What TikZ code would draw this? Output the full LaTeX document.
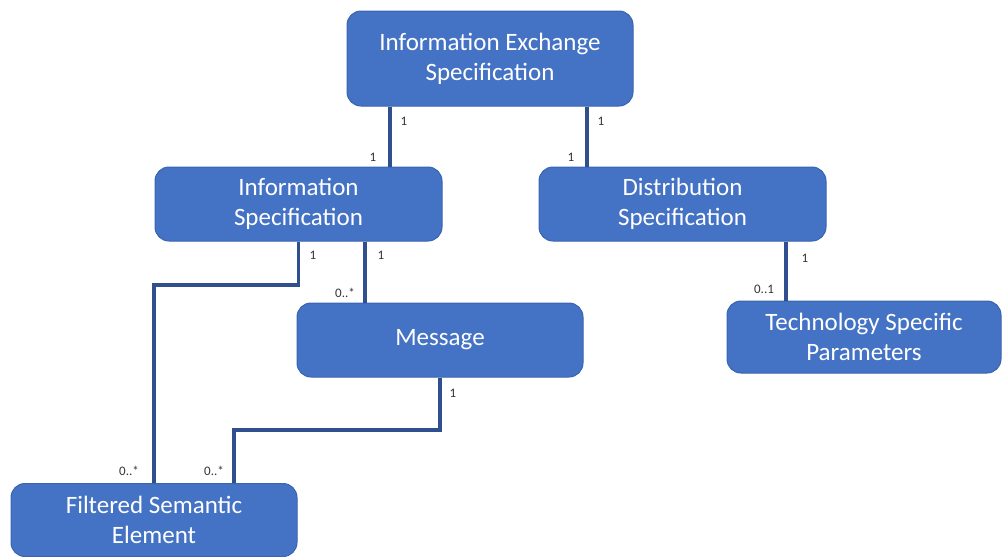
\documentclass[tikz,border=0pt]{standalone}
\usepackage{fontspec}
\setmainfont{Carlito}
\definecolor{boxblue}{HTML}{4472C4}
\definecolor{boxline}{HTML}{3A64B0}
\definecolor{linkblue}{HTML}{2F4F8F}
\begin{document}
\begin{tikzpicture}[x=1pt,y=-1pt,
    box/.style={draw=boxline, line width=1pt, fill=boxblue, rounded corners=14pt,
      text=white, align=center, inner sep=0pt,
      font=\fontsize{25}{30}\selectfont},
    link/.style={draw=linkblue, line width=3.5pt},
    mult/.style={text=black!80, inner sep=1pt, font=\fontsize{13}{15}\selectfont}]
    \useasboundingbox (0,0) rectangle (1002,557);

    % Draw the boxes
    \node[box, minimum width=286pt, minimum height=95pt] (ies) at (490,58.5) {Information Exchange\\Specification};
    \node[box, minimum width=287pt, minimum height=74pt] (is) at (298.5,204) {Information\\Specification};
    \node[box, minimum width=287pt, minimum height=74pt] (ds) at (682.5,204) {Distribution\\Specification};
    \node[box, minimum width=286pt, minimum height=74pt] (msg) at (440,340) {Message};
    \node[box, minimum width=274pt, minimum height=72pt] (tsp) at (864,337) {Technology Specific\\Parameters};
    \node[box, minimum width=286pt, minimum height=73pt] (fse) at (154,520) {Filtered Semantic\\Element};

    % Draw the associations
    \draw[link] (ies.south -| 390,0) -- (is.north -| 390,0);
    \draw[link] (ies.south -| 587,0) -- (ds.north -| 587,0);
    \draw[link] (ds.south -| 786,0) -- (tsp.north -| 786,0);
    \draw[link] (is.south -| 365,0) -- (msg.north -| 365,0);
    \draw[link] (is.south) -- (is.south |- 0,285) -| (fse.north);
    \draw[link] (msg.south) -- (msg.south |- 0,430) -| (fse.north -| 234,0);

    % Add the multiplicities
    \node[mult] (m1) at (404,121) {1};
    \node[mult] (m2) at (373,157) {1};
    \node[mult] (m3) at (601,121) {1};
    \node[mult] (m4) at (571,157) {1};
    \node[mult] (m5) at (805,258) {1};
    \node[mult] (m6) at (764,289) {0..1};
    \node[mult] (m7) at (381,255) {1};
    \node[mult] (m8) at (345,293) {0..*};
    \node[mult] (m9) at (313,255) {1};
    \node[mult] (m10) at (129,471) {0..*};
    \node[mult] (m11) at (453,393) {1};
    \node[mult] (m12) at (214,471) {0..*};

\end{tikzpicture}
\end{document}
